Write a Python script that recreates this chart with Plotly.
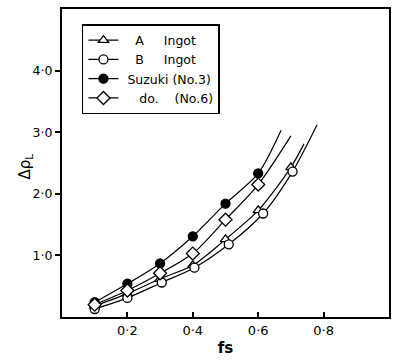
import plotly.graph_objects as go

# ---- data ----
fs_A = [0.1, 0.2, 0.3, 0.4, 0.5, 0.6, 0.7]
rho_A = [0.18, 0.38, 0.62, 0.84, 1.26, 1.73, 2.43]
fs_B = [0.1, 0.2, 0.305, 0.405, 0.51, 0.615, 0.705]
rho_B = [0.13, 0.31, 0.56, 0.80, 1.18, 1.68, 2.36]
fs_S3 = [0.1, 0.2, 0.3, 0.4, 0.5, 0.6]
rho_S3 = [0.24, 0.54, 0.87, 1.31, 1.84, 2.33]
fs_S6 = [0.1, 0.2, 0.3, 0.4, 0.5, 0.6]
rho_S6 = [0.20, 0.43, 0.71, 1.03, 1.58, 2.15]

# curve end points (where the fitted curves stop at the top)
end_A = (0.74, 2.81)
end_B = (0.78, 3.12)
end_S3 = (0.67, 3.03)
end_S6 = (0.70, 2.94)

NB = "\u00a0"
names = [NB * 3 + "A" + NB * 5 + "Ingot", NB * 3 + "B" + NB * 5 + "Ingot",
         NB + "Suzuki" + NB + "(No.3)", NB * 4 + "do." + NB * 4 + "(No.6)"]
x_ticks = [0.2, 0.4, 0.6, 0.8]
x_tick_text = ["0·2", "0·4", "0·6", "0·8"]
y_ticks = [1, 2, 3, 4]
y_tick_text = ["1·0", "2·0", "3·0", "4·0"]

series = [
    (fs_A, rho_A, end_A, "triangle-up", "white"),
    (fs_B, rho_B, end_B, "circle", "white"),
    (fs_S3, rho_S3, end_S3, "circle", "black"),
    (fs_S6, rho_S6, end_S6, "diamond", "white"),
]

FONT = "DejaVu Sans"
fig = go.Figure()

def msize(sym):
    return 10 if sym == "diamond" else 9

for (xs, ys, end, sym, fill), name in zip(series, names):
    # fitted curve
    fig.add_trace(go.Scatter(
        x=xs + [end[0]], y=ys + [end[1]], mode="lines",
        line=dict(color="black", width=1.2, shape="spline", smoothing=0.8),
        showlegend=False, hoverinfo="skip"))
for (xs, ys, end, sym, fill), name in zip(series, names):
    fig.add_trace(go.Scatter(
        x=xs, y=ys, mode="markers",
        marker=dict(symbol=sym, size=msize(sym), color=fill,
                    line=dict(color="black", width=1.3)),
        showlegend=False))
for (xs, ys, end, sym, fill), name in zip(series, names):
    # legend entries
    fig.add_trace(go.Scatter(
        x=[None], y=[None], mode="lines+markers", name=name,
        line=dict(color="black", width=1.2),
        marker=dict(symbol=sym, size=msize(sym), color=fill,
                    line=dict(color="black", width=1.3))))

fig.update_layout(
    width=393, height=360,
    margin=dict(l=62, r=2, t=9, b=43),
    paper_bgcolor="white", plot_bgcolor="white",
    font=dict(family=FONT, color="black", size=13),
    legend=dict(x=0.061, y=0.951, xanchor="left", yanchor="top",
                bordercolor="black", borderwidth=1.5, bgcolor="white",
                font=dict(family=FONT, size=12.5, color="black"),
                tracegroupgap=0, itemwidth=30),
    xaxis=dict(range=[0, 1.0], tickvals=x_ticks, ticktext=x_tick_text,
               ticks="inside", ticklen=5, tickwidth=1.5, tickcolor="black",
               showline=True, linecolor="black", linewidth=2, mirror=True,
               showgrid=False, zeroline=False,
               tickfont=dict(size=13),
               title=dict(text="<b>fs</b>", font=dict(size=15), standoff=6)),
    yaxis=dict(range=[0, 5.0], tickvals=y_ticks, ticktext=y_tick_text,
               ticks="outside", ticklen=5, tickwidth=1.5, tickcolor="black",
               showline=True, linecolor="black", linewidth=2, mirror=True,
               showgrid=False, zeroline=False,
               tickfont=dict(size=12.5)),
    annotations=[dict(text="Δρ<sub>L</sub>", textangle=-90, showarrow=False,
                      xref="paper", yref="paper", x=-0.112, y=0.49,
                      xanchor="center", yanchor="middle",
                      font=dict(size=15, family=FONT, color="black"))],
)

fig.write_html("out.html")
